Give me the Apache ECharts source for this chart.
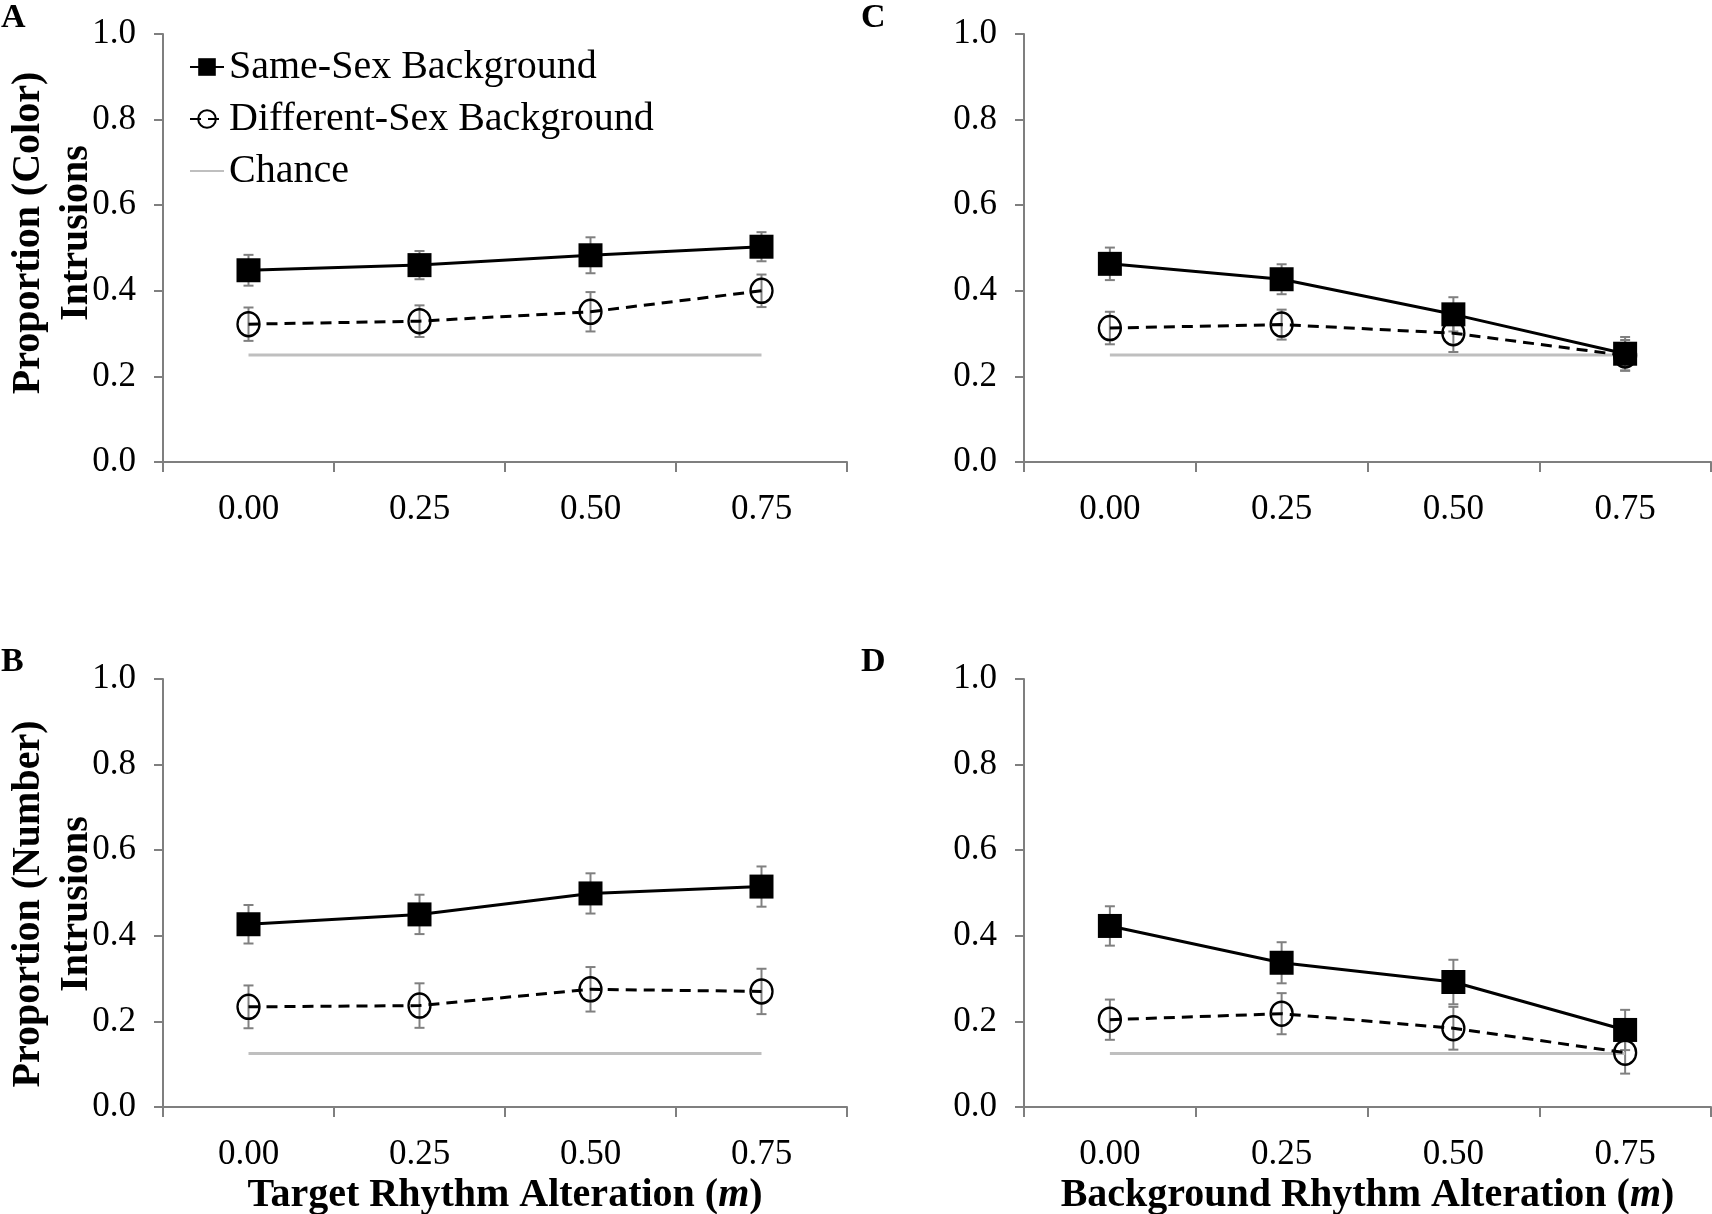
<!DOCTYPE html>
<html><head><meta charset="utf-8">
<script src="https://cdn.jsdelivr.net/npm/echarts@6/dist/echarts.min.js"></script>
<style>html,body{margin:0;padding:0;background:#fff}#c{width:1712px;height:1214px}</style>
</head><body><div id="c"></div>
<script>
// ---------- DATA ----------
const categories = ['0.00', '0.25', '0.50', '0.75'];

// Panel A: Color intrusions vs target rhythm alteration
const aSame    = [0.448, 0.460, 0.483, 0.503];
const aSameErr = [0.036, 0.033, 0.042, 0.034];
const aDiff    = [0.322, 0.329, 0.351, 0.400];
const aDiffErr = [0.039, 0.037, 0.046, 0.038];
const aChance  = [0.25, 0.25, 0.25, 0.25];

// Panel B: Number intrusions vs target rhythm alteration
const bSame    = [0.427, 0.450, 0.499, 0.515];
const bSameErr = [0.045, 0.046, 0.047, 0.047];
const bDiff    = [0.234, 0.237, 0.275, 0.270];
const bDiffErr = [0.050, 0.052, 0.052, 0.053];
const bChance  = [0.125, 0.125, 0.125, 0.125];

// Panel C: Color intrusions vs background rhythm alteration
const cSame    = [0.463, 0.427, 0.345, 0.253];
const cSameErr = [0.038, 0.035, 0.040, 0.039];
const cDiff    = [0.313, 0.321, 0.301, 0.249];
const cDiffErr = [0.038, 0.035, 0.044, 0.036];
const cChance  = [0.25, 0.25, 0.25, 0.25];

// Panel D: Number intrusions vs background rhythm alteration
const dSame    = [0.423, 0.337, 0.292, 0.180];
const dSameErr = [0.046, 0.048, 0.052, 0.047];
const dDiff    = [0.204, 0.218, 0.184, 0.127];
const dDiffErr = [0.047, 0.048, 0.050, 0.049];
const dChance  = [0.125, 0.125, 0.125, 0.125];

const seriesNames = ['Same-Sex Background', 'Different-Sex Background', 'Chance'];
const panelLetters = ['A', 'B', 'C', 'D'];
const yNames = ['Proportion (Color)\nIntrusions', 'Proportion (Number)\nIntrusions', '', ''];
const xNames = ['', 'Target Rhythm Alteration ({i|m})', '', 'Background Rhythm Alteration ({i|m})'];

// ---------- LAYOUT / STYLE ----------
const FONT = "'Liberation Serif','Times New Roman',serif";
const panelData = [
  { same: aSame, sameErr: aSameErr, diff: aDiff, diffErr: aDiffErr, chance: aChance },
  { same: bSame, sameErr: bSameErr, diff: bDiff, diffErr: bDiffErr, chance: bChance },
  { same: cSame, sameErr: cSameErr, diff: cDiff, diffErr: cDiffErr, chance: cChance },
  { same: dSame, sameErr: dSameErr, diff: dDiff, diffErr: dDiffErr, chance: dChance }
];
const grids = [
  { left: 163, top: 34, width: 684, height: 428, outerBoundsMode: 'none', containLabel: false },
  { left: 163, top: 679, width: 684, height: 428, outerBoundsMode: 'none', containLabel: false },
  { left: 1024, top: 34, width: 687, height: 428, outerBoundsMode: 'none', containLabel: false },
  { left: 1024, top: 679, width: 687, height: 428, outerBoundsMode: 'none', containLabel: false }
];
const letterPos = [
  { left: 1, top: 1 }, { left: 1, top: 645 }, { left: 861, top: 1 }, { left: 861, top: 645 }
];
const yNamePad = [[0, 0, 0, 30], [0, 22, 0, 0], [0, 0, 0, 0], [0, 0, 0, 0]];

const AXIS_COLOR = '#7f7f7f';
const ERR_COLOR = '#808080';

function errRender(params, api) {
  const k = api.value(0), v = api.value(1), e = api.value(2);
  const top = api.coord([k, v + e]);
  const bot = api.coord([k, v - e]);
  const hw = 5;
  const st = { stroke: ERR_COLOR, lineWidth: 2 };
  return {
    type: 'group',
    children: [
      { type: 'line', shape: { x1: top[0], y1: top[1], x2: bot[0], y2: bot[1] }, style: st },
      { type: 'line', shape: { x1: top[0] - hw, y1: top[1], x2: top[0] + hw, y2: top[1] }, style: st },
      { type: 'line', shape: { x1: bot[0] - hw, y1: bot[1], x2: bot[0] + hw, y2: bot[1] }, style: st }
    ]
  };
}

const xAxes = [], yAxes = [], series = [], titles = [];
panelData.forEach((p, i) => {
  xAxes.push({
    type: 'category', gridIndex: i, data: categories, boundaryGap: true,
    axisLine: { lineStyle: { color: AXIS_COLOR, width: 2 } },
    axisTick: { show: true, length: 10, inside: false, lineStyle: { color: AXIS_COLOR, width: 2 } },
    axisLabel: { color: '#000', fontFamily: FONT, fontSize: 35, margin: 30 },
    splitLine: { show: false },
    name: xNames[i], nameLocation: 'middle', nameGap: 69, nameMoveOverlap: false,
    nameTextStyle: {
      color: '#000', fontFamily: FONT, fontSize: 40, fontWeight: 'bold',
      rich: { i: { fontFamily: FONT, fontSize: 40, fontWeight: 'bold', fontStyle: 'italic', color: '#000' } }
    }
  });
  yAxes.push({
    type: 'value', gridIndex: i, min: 0, max: 1, interval: 0.2,
    axisLine: { show: true, lineStyle: { color: AXIS_COLOR, width: 2 } },
    axisTick: { show: true, length: 9, inside: false, lineStyle: { color: AXIS_COLOR, width: 2 } },
    axisLabel: { color: '#000', fontFamily: FONT, fontSize: 35, margin: 27, formatter: v => v.toFixed(1) },
    splitLine: { show: false },
    name: yNames[i], nameLocation: 'middle', nameGap: 62, nameRotate: 90, nameMoveOverlap: false,
    nameTextStyle: {
      color: '#000', fontFamily: FONT, fontSize: 40, fontWeight: 'bold', lineHeight: 48,
      padding: yNamePad[i]
    }
  });
  titles.push({
    text: panelLetters[i], left: letterPos[i].left, top: letterPos[i].top, padding: 0,
    textStyle: { fontFamily: FONT, fontSize: 34, fontWeight: 'bold', color: '#000' }
  });
  series.push({
    type: 'custom', xAxisIndex: i, yAxisIndex: i, z: 1, silent: true,
    renderItem: errRender,
    data: categories.map((c, k) => [k, p.same[k], p.sameErr[k]])
  });
  series.push({
    type: 'custom', xAxisIndex: i, yAxisIndex: i, z: 1, silent: true,
    renderItem: errRender,
    data: categories.map((c, k) => [k, p.diff[k], p.diffErr[k]])
  });
  series.push({
    type: 'line', name: seriesNames[2], xAxisIndex: i, yAxisIndex: i, z: 2,
    data: p.chance, symbol: 'none',
    itemStyle: { color: '#bfbfbf' },
    lineStyle: { color: '#bfbfbf', width: 3 }
  });
  series.push({
    type: 'line', name: seriesNames[1], xAxisIndex: i, yAxisIndex: i, z: 3,
    data: p.diff, symbol: 'circle', symbolSize: [22, 24], showAllSymbol: true,
    itemStyle: { color: 'rgba(255,255,255,0)', borderColor: '#000', borderWidth: 2.4 },
    lineStyle: { color: '#000', width: 3, type: [11, 7] }
  });
  series.push({
    type: 'line', name: seriesNames[0], xAxisIndex: i, yAxisIndex: i, z: 4,
    data: p.same, symbol: 'rect', symbolSize: 24, showAllSymbol: true,
    itemStyle: { color: '#000' },
    lineStyle: { color: '#000', width: 3 }
  });
});

const chart = echarts.init(document.getElementById('c'), null, { renderer: 'canvas' });
chart.setOption({
  animation: false,
  backgroundColor: '#fff',
  title: titles,
  legend: {
    data: [
      { name: seriesNames[0] },
      { name: seriesNames[1] },
      { name: seriesNames[2], itemStyle: { opacity: 0 } }
    ],
    orient: 'vertical', left: 184, top: 42,
    itemWidth: 34, itemHeight: 22, itemGap: 12, selectedMode: false,
    textStyle: { fontFamily: FONT, fontSize: 40, color: '#000' }
  },
  grid: grids,
  xAxis: xAxes,
  yAxis: yAxes,
  series: series
});
</script>
</body></html>
